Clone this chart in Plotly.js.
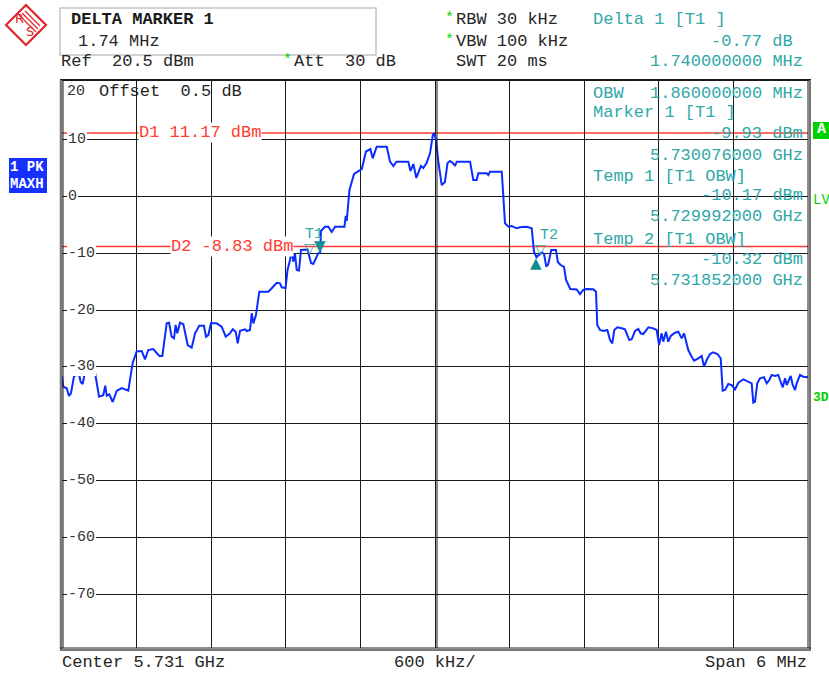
<!DOCTYPE html>
<html>
<head>
<meta charset="utf-8">
<script src="https://cdn.plot.ly/plotly-3.0.1.min.js"></script>
<style>
  html, body { margin: 0; padding: 0; background: #fff; }
  #chart { width: 829px; height: 673px; }
</style>
</head>
<body>
<div id="chart"></div>
<script>
// Spectrum trace: max-hold peak detector, 5.728 .. 5.734 GHz
const freqMHz = [
  5728.000, 5728.010, 5728.038, 5728.056, 5728.072, 5728.097, 5728.137, 5728.150, 5728.166, 5728.185,
  5728.265, 5728.298, 5728.332, 5728.348, 5728.360, 5728.380, 5728.408, 5728.440, 5728.480, 5728.533,
  5728.569, 5728.601, 5728.641, 5728.668, 5728.694, 5728.734, 5728.783, 5728.807, 5728.842, 5728.861,
  5728.882, 5728.901, 5728.914, 5728.927, 5728.949, 5728.976, 5729.011, 5729.043, 5729.070, 5729.104,
  5729.142, 5729.158, 5729.177, 5729.198, 5729.244, 5729.284, 5729.317, 5729.351, 5729.373, 5729.397,
  5729.413, 5729.432, 5729.472, 5729.486, 5729.512, 5729.526, 5729.539, 5729.560, 5729.587, 5729.659,
  5729.687, 5729.727, 5729.753, 5729.767, 5729.798, 5729.806, 5729.814, 5729.834, 5729.847, 5729.860,
  5729.874, 5729.888, 5729.906, 5729.922, 5729.975, 5730.003, 5730.021, 5730.061, 5730.076, 5730.083,
  5730.115, 5730.142, 5730.169, 5730.196, 5730.272, 5730.282, 5730.290, 5730.312, 5730.349, 5730.411,
  5730.445, 5730.480, 5730.499, 5730.531, 5730.612, 5730.638, 5730.665, 5730.690, 5730.785, 5730.803,
  5730.826, 5730.850, 5730.874, 5730.887, 5730.906, 5730.933, 5730.960, 5730.982, 5730.992, 5731.008,
  5731.027, 5731.054, 5731.080, 5731.101, 5731.121, 5731.147, 5731.161, 5731.175, 5731.282, 5731.308,
  5731.335, 5731.348, 5731.416, 5731.429, 5731.442, 5731.537, 5731.563, 5731.590, 5731.617, 5731.657,
  5731.684, 5731.738, 5731.778, 5731.796, 5731.816, 5731.858, 5731.877, 5731.895, 5731.911, 5731.935,
  5731.973, 5731.988, 5732.010, 5732.038, 5732.054, 5732.088, 5732.140, 5732.166, 5732.193, 5732.220,
  5732.273, 5732.295, 5732.305, 5732.327, 5732.354, 5732.386, 5732.408, 5732.426, 5732.442, 5732.466,
  5732.502, 5732.528, 5732.563, 5732.582, 5732.609, 5732.635, 5732.654, 5732.675, 5732.716, 5732.756,
  5732.783, 5732.802, 5732.823, 5732.836, 5732.858, 5732.876, 5732.896, 5732.930, 5732.957, 5732.984,
  5733.003, 5733.019, 5733.037, 5733.065, 5733.083, 5733.118, 5733.145, 5733.164, 5733.185, 5733.212,
  5733.238, 5733.271, 5733.298, 5733.314, 5733.333, 5733.359, 5733.386, 5733.413, 5733.440, 5733.480,
  5733.520, 5733.547, 5733.560, 5733.574, 5733.592, 5733.614, 5733.646, 5733.668, 5733.689, 5733.708,
  5733.735, 5733.761, 5733.775, 5733.797, 5733.815, 5733.829, 5733.861, 5733.877, 5733.896, 5733.909,
  5733.936, 5733.962, 5734.000
];
const levelDbm = [
  -31.61, -33.50, -33.78, -35.13, -34.66, -31.61, -31.26, -32.67, -33.02, -30.96,
  -30.96, -35.26, -35.01, -33.32, -35.08, -34.84, -36.19, -34.25, -33.73, -34.20,
  -29.27, -27.27, -27.21, -28.67, -27.04, -26.86, -28.09, -28.09, -22.34, -22.23,
  -24.69, -24.98, -22.63, -24.10, -22.23, -22.51, -26.16, -26.63, -24.10, -22.76,
  -22.76, -24.69, -24.40, -22.34, -22.34, -22.93, -24.69, -24.10, -23.39, -23.81,
  -25.86, -23.64, -23.39, -23.69, -23.52, -20.57, -22.34, -20.87, -16.77, -16.77,
  -16.17, -15.19, -15.29, -16.00, -16.12, -14.36, -12.95, -11.19, -9.25, -11.49,
  -10.13, -12.95, -13.04, -9.43, -9.34, -11.72, -11.89, -10.01, -9.93, -6.08,
  -5.33, -5.33, -6.26, -5.33, -5.33, -3.44, -4.32, 1.13, 3.95, 4.83,
  7.91, 8.35, 6.71, 8.76, 8.76, 6.15, 5.36, 6.12, 6.12, 4.48,
  5.71, 3.25, 4.74, 5.36, 5.01, 5.94, 7.59, 10.82, 11.17, 9.94,
  6.12, 2.01, 2.54, 5.89, 6.24, 5.83, 5.36, 6.12, 6.12, 2.89,
  2.89, 4.07, 4.07, 3.77, 4.36, 4.36, -4.73, -5.33, -5.20, -5.61,
  -5.43, -5.33, -5.61, -9.73, -10.70, -9.87, -10.13, -12.37, -11.89, -9.43,
  -9.43, -11.54, -12.07, -12.42, -14.71, -16.30, -16.38, -17.21, -16.47, -16.30,
  -16.35, -16.77, -22.63, -23.52, -23.69, -23.52, -25.28, -25.86, -23.52, -23.04,
  -23.22, -23.39, -25.28, -25.15, -23.69, -23.34, -24.10, -24.22, -23.04, -23.22,
  -23.52, -26.16, -24.10, -25.57, -23.81, -25.57, -24.57, -23.99, -23.81, -24.98,
  -24.10, -25.57, -27.04, -28.22, -28.92, -28.50, -28.09, -29.98, -28.80, -27.74,
  -27.44, -27.74, -28.50, -34.20, -34.08, -33.02, -33.20, -33.96, -32.79, -32.19,
  -32.62, -32.90, -36.31, -36.14, -32.90, -32.02, -31.84, -32.90, -32.32, -31.44,
  -31.61, -31.44, -32.32, -33.60, -32.02, -33.20, -31.61, -33.20, -34.08, -32.90,
  -31.44, -31.74, -31.84
];

// Sweep settings
const centerMHz = 5731.0;
const spanMHz = 6.0;
const refLevelDbm = 20.5;
const rangeDb = 100;
const levelTicks = [10, 0, -10, -20, -30, -40, -50, -60, -70];
const levelTickLabels = ['10', '0', '-10', '-20', '-30', '-40', '-50', '-60', '-70'];

// Display lines
const displayLine1 = 11.17;
const displayLine2 = -8.83;

// Markers
const marker1Freq = 5730.076, marker1Level = -9.93;
const deltaFreqMHz = 1.74, deltaDb = -0.77;
const temp1Freq = 5729.992, temp1Level = -10.17;
const temp2Freq = 5731.852, temp2Level = -10.32;
const obwMHz = 1.86;

const delta1Freq = marker1Freq + deltaFreqMHz;
const delta1Level = marker1Level + deltaDb;

// Plot area in pixels
const L = 62, R = 808, TOP = 80, BOT = 648;
const W = 829, H = 673;
const px = v => (v - L) / (R - L);
const py = v => (BOT - v) / (BOT - TOP);

const MONO = 'Liberation Mono, Courier New, monospace';
const BLACK = '#1a1a1a';
const TEXT = '#262626';
const TEAL = '#2fa8a8';
const TEAL_DARK = '#0f8f8f';
const RED = '#ff3b30';
const GREEN = '#00d000';
const TRACE = '#0a2cff';

const annotations = [];
function txt(text, x, y, o = {}) {
  annotations.push(Object.assign({
    text: text, xref: 'paper', yref: 'paper', x: px(x), y: py(y),
    xanchor: 'left', yanchor: 'middle', showarrow: false, borderpad: 0, borderwidth: 0,
    font: { family: MONO, size: 17, color: TEXT }
  }, o));
}
const nb = s => s.replace(/ /g, '\u00a0');

// Header block
txt('<b>DELTA MARKER 1</b>', 71, 19, { font: { family: MONO, size: 17, color: BLACK } });
txt(nb(deltaFreqMHz.toFixed(2) + ' MHz'), 78, 42);
txt(nb('Ref  ' + refLevelDbm.toFixed(1) + ' dBm'), 61, 62);
txt('*', 283, 60, { font: { family: MONO, size: 15, color: GREEN } });
txt(nb('Att  30 dB'), 294, 62);
txt('*', 445, 18, { font: { family: MONO, size: 15, color: GREEN } });
txt(nb('RBW 30 kHz'), 456, 20);
txt('*', 445, 40, { font: { family: MONO, size: 15, color: GREEN } });
txt(nb('VBW 100 kHz'), 456, 42);
txt(nb('SWT 20 ms'), 456, 62);

// Marker readout
txt(nb('Delta 1 [T1 ]'), 593, 20, { font: { family: MONO, size: 17, color: TEAL } });
txt(nb(deltaDb.toFixed(2) + ' dB'), 793, 42, { xanchor: 'right', font: { family: MONO, size: 17, color: TEAL } });
txt(nb(deltaFreqMHz.toFixed(9) + ' MHz'), 803, 62, { xanchor: 'right', font: { family: MONO, size: 17, color: TEAL } });

const readout = [
  ['OBW', obwMHz.toFixed(9) + ' MHz', 93],
  ['Marker 1 [T1 ]', null, 113],
  [null, marker1Level.toFixed(2) + ' dBm', 133],
  [null, (marker1Freq / 1000).toFixed(9) + ' GHz', 155],
  ['Temp 1 [T1 OBW]', null, 176],
  [null, temp1Level.toFixed(2) + ' dBm', 196],
  [null, (temp1Freq / 1000).toFixed(9) + ' GHz', 217],
  ['Temp 2 [T1 OBW]', null, 239],
  [null, temp2Level.toFixed(2) + ' dBm', 259],
  [null, (temp2Freq / 1000).toFixed(9) + ' GHz', 280]
];
readout.forEach(([left, right, y]) => {
  if (left) txt(nb(left), 593, y, { font: { family: MONO, size: 17, color: TEAL } });
  if (right) txt(nb(right), 803, y, { xanchor: 'right', font: { family: MONO, size: 17, color: TEAL } });
});

txt(nb('Offset  0.5 dB'), 99, 91);

// Level scale labels drawn inside the grid
levelTicks.forEach((v, i) => {
  annotations.push({
    text: levelTickLabels[i], xref: 'paper', yref: 'y', x: px(67), y: v,
    xanchor: 'left', yanchor: 'middle', showarrow: false, borderpad: 1, borderwidth: 0,
    bgcolor: '#ffffff', font: { family: MONO, size: 15, color: '#333333' }
  });
});
txt('20', 67, 91, { font: { family: MONO, size: 15, color: '#333333' } });

// Display line labels
annotations.push({
  text: nb('D1 ' + displayLine1.toFixed(2) + ' dBm'), xref: 'paper', yref: 'y', x: px(200), y: displayLine1,
  xanchor: 'center', yanchor: 'middle', showarrow: false, borderpad: 0, bgcolor: '#ffffff',
  font: { family: MONO, size: 17, color: RED }
});
annotations.push({
  text: nb('D2 ' + displayLine2.toFixed(2) + ' dBm'), xref: 'paper', yref: 'y', x: px(232), y: displayLine2,
  xanchor: 'center', yanchor: 'middle', showarrow: false, borderpad: 0, bgcolor: '#ffffff',
  font: { family: MONO, size: 17, color: RED }
});

// Marker symbols on the trace
const SYM = 'DejaVu Sans, sans-serif';
annotations.push({ text: '\u25BC', x: marker1Freq, y: marker1Level, xref: 'x', yref: 'y', yanchor: 'bottom',
  showarrow: false, borderpad: 0, yshift: -3, font: { family: SYM, size: 15, color: TEAL_DARK } });
annotations.push({ text: '\u25BD', x: temp1Freq, y: temp1Level, xref: 'x', yref: 'y', yanchor: 'bottom',
  showarrow: false, borderpad: 0, yshift: -3, font: { family: SYM, size: 14, color: TEAL } });
annotations.push({ text: '\u25BD', x: temp2Freq, y: temp2Level, xref: 'x', yref: 'y', yanchor: 'bottom',
  showarrow: false, borderpad: 0, yshift: -3, font: { family: SYM, size: 14, color: TEAL } });
annotations.push({ text: '\u25B2', x: delta1Freq, y: delta1Level, xref: 'x', yref: 'y', yanchor: 'top',
  showarrow: false, borderpad: 0, yshift: 4, font: { family: SYM, size: 15, color: TEAL_DARK } });
annotations.push({ text: 'T1', x: temp1Freq, y: temp1Level, xref: 'x', yref: 'y', xanchor: 'left', yanchor: 'bottom',
  xshift: -6, yshift: 10, showarrow: false, borderpad: 0, font: { family: MONO, size: 15, color: TEAL } });
annotations.push({ text: 'T2', x: temp2Freq, y: temp2Level, xref: 'x', yref: 'y', xanchor: 'left', yanchor: 'bottom',
  xshift: -2, yshift: 10, showarrow: false, borderpad: 0, font: { family: MONO, size: 15, color: TEAL } });

// Bottom line
txt(nb('Center ' + (centerMHz / 1000).toFixed(3) + ' GHz'), 62, 662);
txt(nb((spanMHz / 10 * 1000).toFixed(0) + ' kHz/'), 394, 662);
txt(nb('Span ' + spanMHz.toFixed(0) + ' MHz'), 807, 662, { xanchor: 'right' });

// Trace detector badge and side indicators
txt('<b>1 PK</b>', 10, 167, { font: { family: MONO, size: 14, color: '#ffffff' } });
txt('<b>MAXH</b>', 10, 184, { font: { family: MONO, size: 14, color: '#ffffff' } });
txt('<b>A</b>', 817, 129, { font: { family: MONO, size: 15, color: '#ffffff' } });
txt('LVL', 813, 200, { font: { family: MONO, size: 14, color: GREEN } });
txt('<b>3DB</b>', 813, 397, { font: { family: MONO, size: 13, color: GREEN } });

// Shapes
const shapes = [];
function pline(x0, y0, x1, y1, color, width) {
  shapes.push({ type: 'line', xref: 'paper', yref: 'paper', x0: px(x0), y0: py(y0), x1: px(x1), y1: py(y1),
    line: { color: color, width: width }, layer: 'above' });
}
function prect(x0, y0, x1, y1, fill, color, width) {
  shapes.push({ type: 'rect', xref: 'paper', yref: 'paper', x0: px(x0), y0: py(y0), x1: px(x1), y1: py(y1),
    fillcolor: fill, line: { color: color, width: width }, layer: 'below' });
}
function ppath(pts, color, width, close) {
  let d = pts.map((p, i) => (i ? 'L' : 'M') + px(p[0]) + ',' + py(p[1])).join(' ');
  if (close) d += ' Z';
  shapes.push({ type: 'path', xref: 'paper', yref: 'paper', path: d, line: { color: color, width: width } });
}

// header box
prect(60, 8, 376, 55, 'rgba(0,0,0,0)', '#c4c4c4', 1.5);
// badges
prect(9, 158, 47, 193, '#1530ff', '#1530ff', 0);
prect(813, 122, 835, 139, GREEN, GREEN, 0);

// Display lines
[displayLine1, displayLine2].forEach(v => {
  shapes.push({ type: 'line', xref: 'paper', yref: 'y', x0: 0, x1: 1, y0: v, y1: v,
    line: { color: RED, width: 1.5 }, layer: 'below' });
});

// Frame
pline(60, 80, 811, 80, BLACK, 2);
pline(61, 80, 61, 649, '#777777', 2.5);
pline(63, 80, 63, 648, BLACK, 1);
pline(808, 80, 808, 648, BLACK, 1);
pline(810, 80, 810, 650, '#777777', 2);
pline(60, 648, 811, 648, BLACK, 1);
pline(60, 650, 811, 650, '#777777', 2);
pline(437, 80, 437, 648, BLACK, 1);

// R&S logo
const LOGO_RED = '#e0262a';
ppath([[26, 5], [46, 25], [26, 45], [6, 25]], LOGO_RED, 2.2, true);
ppath([[25, 11], [40, 26]], LOGO_RED, 1.2);
ppath([[22, 13], [38, 29]], LOGO_RED, 1.2);
ppath([[19, 15], [36, 32]], LOGO_RED, 1.2);
txt('R', 15, 18, { font: { family: 'DejaVu Sans, sans-serif', size: 13, color: LOGO_RED } });
txt('S', 26, 32, { font: { family: 'DejaVu Sans, sans-serif', size: 13, color: LOGO_RED } });

const traces = [{
  x: freqMHz, y: levelDbm, type: 'scatter', mode: 'lines',
  line: { color: TRACE, width: 2 }, hoverinfo: 'skip'
}];

const layout = {
  width: W, height: H,
  margin: { l: L, r: W - R, t: TOP, b: H - BOT, pad: 0 },
  paper_bgcolor: '#ffffff', plot_bgcolor: '#ffffff',
  showlegend: false,
  xaxis: {
    range: [centerMHz - spanMHz / 2, centerMHz + spanMHz / 2],
    tick0: centerMHz - spanMHz / 2, dtick: spanMHz / 10,
    showgrid: true, gridcolor: BLACK, gridwidth: 1,
    showticklabels: false, zeroline: false, showline: false, ticks: ''
  },
  yaxis: {
    range: [refLevelDbm - rangeDb, refLevelDbm],
    tickvals: levelTicks, showgrid: true, gridcolor: BLACK, gridwidth: 1,
    showticklabels: false, zeroline: false, showline: false, ticks: ''
  },
  annotations: annotations,
  shapes: shapes
};

Plotly.newPlot('chart', traces, layout, { displayModeBar: false, staticPlot: true });
</script>
</body>
</html>
